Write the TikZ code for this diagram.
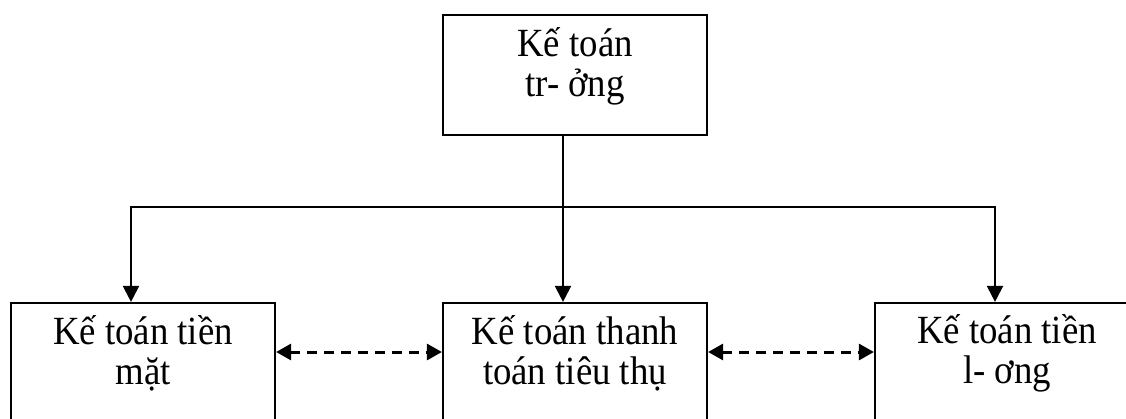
\documentclass[tikz,border=0pt]{standalone}
\usepackage{fontspec}
\setmainfont{Liberation Serif}
\newfontfamily\boxfont[FakeStretch=0.92]{Liberation Serif}
\usetikzlibrary{arrows.meta}
\begin{document}
\begin{tikzpicture}[x=1pt,y=-1pt,
  box/.style={draw, line width=2.2pt, minimum width=264pt, inner sep=0pt},
  txt/.style={align=center, inner sep=0pt, font=\boxfont\fontsize{40}{40}\selectfont},
  wire/.style={line width=2.2pt},
  link/.style={wire, {Triangle[length=16pt,width=16pt]}-{Triangle[length=16pt,width=16pt]}},
  drop/.style={wire, -{Triangle[length=16pt,width=16pt]}},
  peer/.style={line width=3pt, dash pattern=on 10pt off 7pt,
    {Triangle[length=15pt,width=16pt]}-{Triangle[length=15pt,width=16pt]}}]
\useasboundingbox (0,0) rectangle (1126,418);
\clip (0,0) rectangle (1126,418);

% chief accountant
\node[box, minimum height=120pt] (head) at (575,75) {};
\node[txt] (headtxt) at (575,66.5) {Kế toán\\tr- ởng};

% the three sections below (their lower edges run off the page)
\node[box, minimum height=160pt] (cash) at (143,383) {};
\node[txt] (cashtxt) at (143,353) {Kế toán tiền\\mặt};
\node[box, minimum height=160pt] (pay) at (575,383) {};
\node[txt] (paytxt) at (575,353) {Kế toán thanh\\toán tiêu thụ};
\node[box, minimum height=160pt] (wage) at (1007,383) {};
\node[txt] (wagetxt) at (1007,353) {Kế toán tiền\\l- ơng};

% distribution lines
\coordinate (split) at (563,207);
\coordinate (cashin) at ([xshift=-12pt]cash.north);
\coordinate (payin) at ([xshift=-12pt]pay.north);
\coordinate (wagein) at ([xshift=-12pt]wage.north);
\draw[wire] (head.south -| split) -- (split);
\draw[link] (cashin) |- (wagein |- split) -- (wagein);
\draw[drop] (split) -- (payin);

% links between neighbouring sections
\draw[peer] (cash.east |- 0,352) -- (pay.west |- 0,352);
\draw[peer] (pay.east |- 0,352) -- (wage.west |- 0,352);
\end{tikzpicture}
\end{document}
